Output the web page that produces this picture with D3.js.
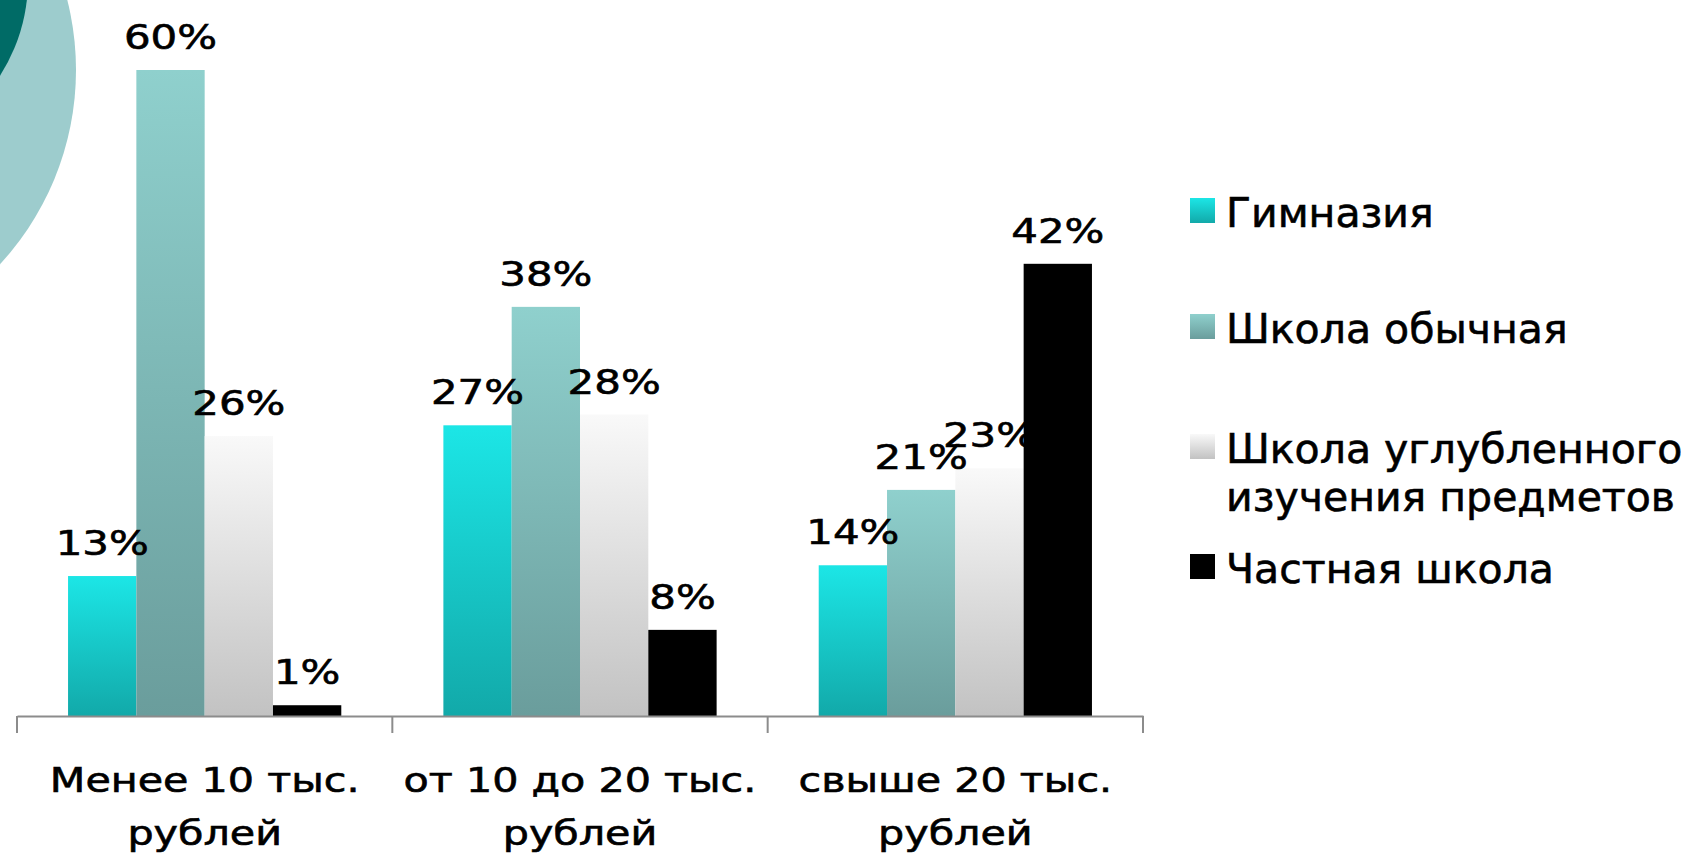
<!DOCTYPE html>
<html>
<head>
<meta charset="utf-8">
<script src="https://cdn.jsdelivr.net/npm/d3@7"></script>
<style>
    body { margin: 0; background: #fff; }
    svg { display: block; }
    svg text { stroke: #000; stroke-width: 0.6px; }
</style>
</head>
<body>
<div id="chart"></div>
<script>
// categories (income groups), two lines each
const categories = ["Менее 10 тыс.\nрублей", "от 10 до 20 тыс.\nрублей", "свыше 20 тыс.\nрублей"];

// series, percent of answers
const seriesNames = ["Гимназия", "Школа обычная", "Школа углубленного\nизучения предметов", "Частная школа"];
const gymnasium = [13, 27, 14];
const regularSchool = [60, 38, 21];
const advancedSchool = [26, 28, 23];
const privateSchool = [1, 8, 42];

const seriesValues = [gymnasium, regularSchool, advancedSchool, privateSchool];

// gradient stops (top, bottom) per series
const seriesColors = [
    ["#1ce6e6", "#12a9a9"],
    ["#8fd0cd", "#6a9d9c"],
    ["#f9f9f9", "#c2c2c2"],
    ["#000000", "#000000"],
];

const svg_w = 1692,
    svg_h = 862;

const svg = d3.select("#chart")
    .append("svg")
    .attr("width", svg_w)
    .attr("height", svg_h)
    .attr("viewBox", [0, 0, svg_w, svg_h]);

// decorative circles in the corner
svg.append("circle")
    .attr("cx", -210)
    .attr("cy", 70)
    .attr("r", 286)
    .attr("fill", "#9dcccd");
svg.append("circle")
    .attr("cx", -150)
    .attr("cy", -20)
    .attr("r", 178)
    .attr("fill", "#006b66");

// gradients
const defs = svg.append("defs");
seriesColors.forEach(function (c, i) {
    const grad = defs.append("linearGradient")
        .attr("id", "grad" + i)
        .attr("x1", 0).attr("y1", 0)
        .attr("x2", 0).attr("y2", 1);
    grad.append("stop").attr("offset", "0%").attr("stop-color", c[0]);
    grad.append("stop").attr("offset", "100%").attr("stop-color", c[1]);
});

const plotLeft = 17,
    plotRight = 1143,
    baseline = 716;

var x0 = d3.scaleBand()
    .domain(categories)
    .range([plotLeft, plotRight])
    .padding(0);

var x1 = d3.scaleBand()
    .domain(d3.range(seriesNames.length))
    .range([x0.bandwidth() * 0.136, x0.bandwidth() * 0.864])
    .padding(0);

var y = d3.scaleLinear()
    .domain([0, 60])
    .range([baseline, 70]);

const g = svg.append("g");

// draw bars
const groups = g.selectAll(".group")
    .data(categories)
    .enter()
    .append("g")
    .attr("class", "group")
    .attr("transform", d => "translate(" + x0(d) + ",0)");

groups.selectAll("rect")
    .data((d, ci) => seriesValues.map((vals, si) => ({ s: si, v: vals[ci] })))
    .enter()
    .append("rect")
    .attr("x", d => x1(d.s))
    .attr("y", d => y(d.v))
    .attr("width", x1.bandwidth())
    .attr("height", d => y(0) - y(d.v))
    .attr("fill", d => "url(#grad" + d.s + ")");

// value labels
groups.selectAll(".val")
    .data((d, ci) => seriesValues.map((vals, si) => ({ s: si, v: vals[ci] })))
    .enter()
    .append("text")
    .attr("class", "val")
    .attr("transform", d => "translate(" + (x1(d.s) + x1.bandwidth() / 2) + "," + (y(d.v) - 21) + ") scale(1.27,1)")
    .attr("text-anchor", "middle")
    .style("font-family", "'DejaVu Sans', Verdana, sans-serif")
    .style("font-size", "33px")
    .style("fill", "#000")
    .text(d => d.v + "%");

// x axis
var xAxis = d3.axisBottom(x0).tickSize(0).tickFormat("");
const axis = g.append("g")
    .attr("transform", "translate(0," + baseline + ")")
    .call(xAxis);
axis.select(".domain").attr("stroke", "#8c8c8c").attr("stroke-width", 2);

// category separators
g.selectAll(".sep")
    .data(categories.concat([null]))
    .enter()
    .append("line")
    .attr("class", "sep")
    .attr("x1", (d, i) => i < categories.length ? x0(d) : plotRight)
    .attr("x2", (d, i) => i < categories.length ? x0(d) : plotRight)
    .attr("y1", baseline)
    .attr("y2", baseline + 17)
    .attr("stroke", "#8c8c8c")
    .attr("stroke-width", 2);

// category labels
const catLabel = g.selectAll(".cat")
    .data(categories)
    .enter()
    .append("g")
    .attr("class", "cat")
    .attr("transform", d => "translate(" + (x0(d) + x0.bandwidth() / 2) + ",0)");

catLabel.selectAll("text")
    .data(d => d.split("\n"))
    .enter()
    .append("text")
    .attr("transform", (d, i) => "translate(0," + (792 + i * 53) + ") scale(1.25,1)")
    .attr("text-anchor", "middle")
    .style("font-family", "'DejaVu Sans', Verdana, sans-serif")
    .style("font-size", "33px")
    .style("fill", "#000")
    .text(d => d);

// legend
const legendY = [227, 343, 463, 583];
const legend = svg.selectAll(".legend")
    .data(seriesNames)
    .enter()
    .append("g")
    .attr("class", "legend")
    .attr("transform", (d, i) => "translate(1190," + legendY[i] + ")");

legend.append("rect")
    .attr("x", 0)
    .attr("y", -29)
    .attr("width", 25)
    .attr("height", 25)
    .attr("fill", (d, i) => "url(#grad" + i + ")");

legend.each(function (d) {
    d3.select(this).selectAll("text")
        .data(d.split("\n"))
        .enter()
        .append("text")
        .attr("x", 36)
        .attr("y", (t, i) => i * 48)
        .style("font-family", "'DejaVu Sans', Verdana, sans-serif")
        .style("font-size", "41px")
        .style("fill", "#000")
        .text(t => t);
});
</script>
</body>
</html>
